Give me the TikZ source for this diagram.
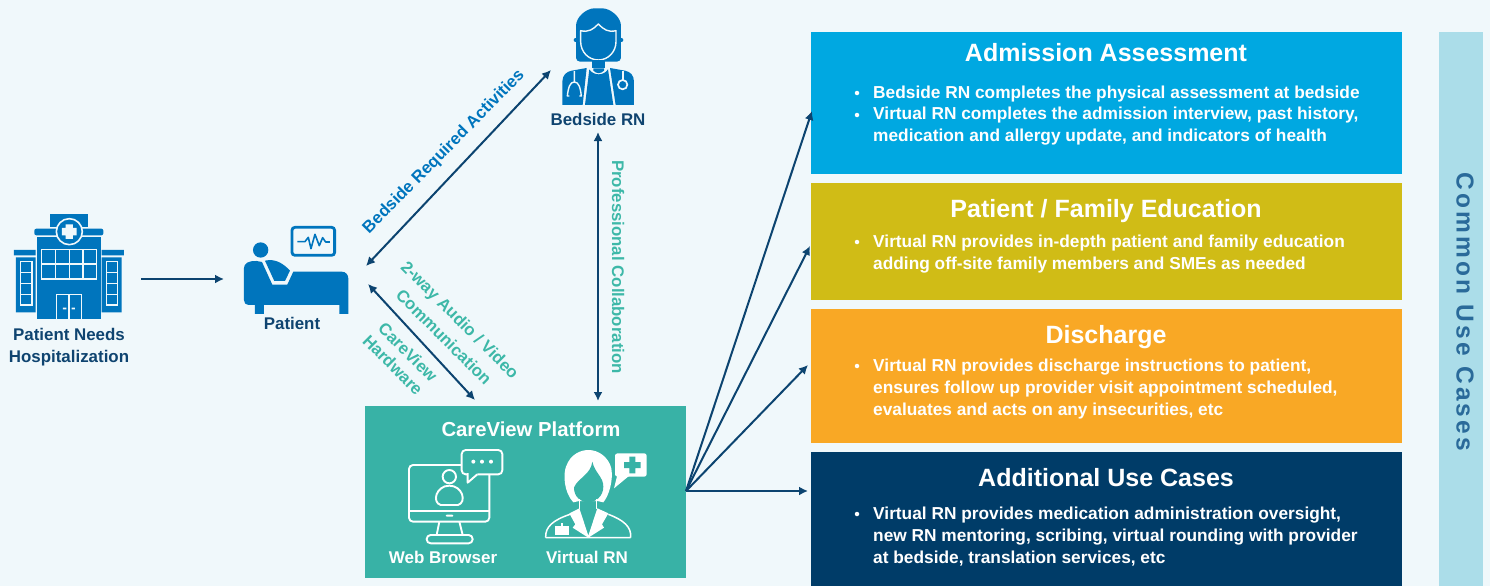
\documentclass[tikz,border=0pt]{standalone}
\usepackage{fontspec}
\setmainfont{Liberation Sans}
\newfontfamily\spacedfont[LetterSpace=13]{Liberation Sans}
\usetikzlibrary{arrows.meta}
\definecolor{bgc}{HTML}{F0F8FB}
\definecolor{iconblue}{HTML}{0075BD}
\definecolor{navy}{HTML}{0F4470}
\definecolor{arrowc}{HTML}{0C4470}
\definecolor{teal1}{HTML}{38B2A6}
\definecolor{tealtxt}{HTML}{3DB8A8}
\definecolor{boxblue}{HTML}{00A8E1}
\definecolor{boxyellow}{HTML}{D0BC16}
\definecolor{boxorange}{HTML}{F9A825}
\definecolor{boxnavy}{HTML}{003C68}
\definecolor{barblue}{HTML}{ABDDE9}
\definecolor{bartxt}{HTML}{2A6A9A}
\tikzset{
  box/.style={draw=none,inner sep=0,outer sep=0,anchor=north west},
  title/.style={text=white,font=\bfseries\fontsize{25}{25}\selectfont,anchor=base,inner sep=0},
  bodytext/.style={text=white,font=\bfseries\fontsize{17.3}{20}\selectfont,anchor=base west,inner sep=0},
  bulletdot/.style={circle,fill=white,minimum size=4.5pt,inner sep=0},
  lab/.style={text=navy,font=\bfseries\fontsize{16.9}{22}\selectfont,align=center,inner sep=0},
  whitelab/.style={text=white,font=\bfseries\fontsize{17}{20}\selectfont,inner sep=0},
  difflab/.style={font=\bfseries\fontsize{16.8}{20}\selectfont,inner sep=0},
  conn/.style={draw=arrowc,line width=2pt,-{Latex[length=9pt,width=9pt]}},
  biconn/.style={draw=arrowc,line width=2pt,{Latex[length=9pt,width=9pt]}-{Latex[length=9pt,width=9pt]}},
  wline/.style={draw=white,line width=1.9pt,line join=round},
}
\begin{document}
\begin{tikzpicture}[x=1pt,y=-1pt]
\useasboundingbox (0,0) rectangle (1490,586);
\fill[bgc] (0,0) rectangle (1490,586);

% right hand boxes
\node[box,fill=boxblue,minimum width=591pt,minimum height=142pt] (adm) at (811,32) {};
\node[box,fill=boxyellow,minimum width=591pt,minimum height=117pt] (edu) at (811,183) {};
\node[box,fill=boxorange,minimum width=591pt,minimum height=134pt] (dis) at (811,309) {};
\node[box,fill=boxnavy,minimum width=591pt,minimum height=134pt] (add) at (811,452) {};
\node[box,fill=barblue,minimum width=44pt,minimum height=554pt] (bar) at (1439,32) {};
\node[rotate=-90,text=bartxt,font=\spacedfont\bfseries\fontsize{24.5}{24}\selectfont,inner sep=0] (common) at (1465,312) {Common Use Cases};

\node[title] (t1) at (1106,61) {Admission Assessment};
\node[bulletdot] (b11) at (857,93) {};
\node[bodytext] (l11) at (873,98.5) {Bedside RN completes the physical assessment at bedside};
\node[bulletdot] (b12) at (857,115) {};
\node[bodytext] (l12) at (873,119.5) {Virtual RN completes the admission interview, past history,};
\node[bodytext] (l13) at (873,141) {medication and allergy update, and indicators of health};

\node[title] (t2) at (1106,217) {Patient / Family Education};
\node[bulletdot] (b21) at (857,242) {};
\node[bodytext] (l21) at (873,247) {Virtual RN provides in-depth patient and family education};
\node[bodytext] (l22) at (873,269) {adding off-site family members and SMEs as needed};

\node[title] (t3) at (1106,343) {Discharge};
\node[bulletdot] (b31) at (857,366) {};
\node[bodytext] (l31) at (873,371) {Virtual RN provides discharge instructions to patient,};
\node[bodytext] (l32) at (873,393) {ensures follow up provider visit appointment scheduled,};
\node[bodytext] (l33) at (873,415) {evaluates and acts on any insecurities, etc};

\node[title] (t4) at (1106,486.5) {Additional Use Cases};
\node[bulletdot] (b41) at (857,514) {};
\node[bodytext] (l41) at (873,519.5) {Virtual RN provides medication administration oversight,};
\node[bodytext] (l42) at (873,541) {new RN mentoring, scribing, virtual rounding with provider};
\node[bodytext] (l43) at (873,563) {at bedside, translation services, etc};

% platform
\node[box,fill=teal1,minimum width=321pt,minimum height=172pt] (platform) at (365,406) {};
\node[whitelab,font=\bfseries\fontsize{20.3}{20}\selectfont] (pt) at (531,429) {CareView Platform};
\node[whitelab] (wb) at (443,557) {Web Browser};
\node[whitelab] (vr) at (587,557) {Virtual RN};

% Web browser icon
\begin{scope}[shift={(400,445)},x=0.3333pt,y=-0.3333pt]
\draw[wline,rounded corners=4pt] (27,230) rectangle (268,60);
\draw[wline] (27,198) -- (268,198);
\draw[wline] (118,230) -- (110,270) (178,230) -- (188,270);
\draw[wline,rounded corners=4pt] (80,270) rectangle (218,295);
\fill[white,rounded corners=1pt] (137,209) rectangle (160,215);
\draw[wline,fill=teal1,rounded corners=4pt] (203,88) -- (185,88) -- (185,15) -- (307,15) -- (307,88) -- (232,88);
\fill[teal1] (204,84) rectangle (231,92);
\draw[wline] (203,84) -- (203,113) -- (232,88);
\fill[white] (220,50) circle (6) (246,50) circle (6) (273,50) circle (6);
\draw[wline] (148,95) circle (20);
\draw[wline] (122,180) .. controls (95,172) and (108,122) .. (148,122) .. controls (188,122) and (201,172) .. (174,180) -- cycle;
\end{scope}

% Virtual RN icon
\begin{scope}[shift={(540,445)},x=0.3333pt,y=-0.3333pt]
\fill[white] (100,172) .. controls (70,140) and (70,85) .. (78,65) .. controls (92,25) and (125,15) .. (145,15) .. controls (175,15) and (205,35) .. (214,70) .. controls (220,105) and (208,150) .. (190,172) -- (172,168) -- (118,168) -- cycle;
\fill[teal1] (102,128) .. controls (112,100) and (152,90) .. (157,50) .. controls (165,85) and (190,95) .. (190,125) .. controls (190,155) and (165,172) .. (145,172) .. controls (122,172) and (102,155) .. (102,128) -- cycle;
\draw[wline,line width=1.5pt] (118,163) -- (118,192) (170,163) -- (170,192);
\fill[white] (88,205) -- (118,190) -- (145,272) -- (172,190) -- (205,205) -- (186,238) -- (192,248) -- (145,278) -- (98,248) -- (106,238) -- cycle;
\draw[wline,line width=1.5pt] (17,278) .. controls (15,245) and (40,225) .. (90,208) (205,208) .. controls (250,225) and (275,245) .. (272,278) (17,278) -- (272,278);
\fill[white] (45,244) rectangle (86,270);
\fill[white] (62,234) rectangle (68,246);
\fill[white,rounded corners=2.5pt] (225,25) rectangle (320,95);
\fill[white] (232,90) -- (222,130) -- (268,92) -- cycle;
\fill[teal1] (268,35) rectangle (286,85) (252,51) rectangle (302,69);
\end{scope}

% hospital icon
\begin{scope}[shift={(0,200)},x=0.3333pt,y=-0.3333pt]
\fill[iconblue] (150,43) rectangle (264,82);
\fill[iconblue,rounded corners=2pt] (103,86) rectangle (310,106);
\fill[iconblue] (112,112) rectangle (302,358);
\fill[iconblue] (42,150) rectangle (107,166) (305,150) rectangle (372,166);
\fill[iconblue] (48,172) rectangle (107,337) (305,172) rectangle (365,337);
\draw[bgc,fill=iconblue,line width=1.6pt] (208,95) circle (39);
\fill[bgc] (197,73) rectangle (219,117) (186,84) rectangle (230,106);
\draw[bgc,line width=1.4pt] (125,148) rectangle (290,237);
\draw[bgc,line width=1.4pt] (166,148) -- (166,237) (208,148) -- (208,237) (249,148) -- (249,237) (125,192) -- (290,192);
\draw[bgc,line width=1.4pt] (170,358) -- (170,283) -- (245,283) -- (245,358) (207,283) -- (207,358);
\fill[bgc] (189,323) rectangle (199,328) (215,323) rectangle (225,328);
\draw[bgc,line width=1.4pt] (62,185) rectangle (96,315) (62,217) -- (96,217) (62,250) -- (96,250) (62,283) -- (96,283);
\draw[bgc,line width=1.4pt] (320,185) rectangle (353,315) (320,217) -- (353,217) (320,250) -- (353,250) (320,283) -- (353,283);
% patient icon
\fill[iconblue] (782,150) circle (23);
\draw[iconblue,line width=2.8pt,rounded corners=3pt] (876,82) rectangle (1004,166);
\draw[iconblue,line width=1.6pt,line join=round] (892,125) -- (915,125) -- (925,112) -- (933,146) -- (945,103) -- (958,137) -- (968,113) -- (977,126) -- (990,126);
\fill[iconblue] (732,300) -- (732,205) .. controls (732,190) and (745,182) .. (770,183) -- (786,186) -- (817,254) -- (862,254) -- (880,215) -- (1025,215) .. controls (1038,215) and (1045,225) .. (1045,235) -- (1045,342) -- (1018,342) -- (1018,315) -- (792,315) -- (792,342) -- (765,342) -- (765,315) -- (745,315) .. controls (737,315) and (732,308) .. (732,300) -- cycle;
\fill[iconblue] (795,182) .. controls (825,175) and (850,190) .. (870,212) -- (855,243) -- (823,243) -- cycle;
\end{scope}

% bedside RN icon
\begin{scope}[shift={(530,0)},x=0.3333pt,y=-0.3333pt]
\fill[iconblue,rounded corners=4pt] (138,185) -- (138,90) .. controls (138,50) and (170,25) .. (205,25) .. controls (240,25) and (273,50) .. (273,90) -- (273,185) -- cycle;
\fill[iconblue] (137,120) circle (6) (274,120) circle (6);
\draw[bgc,fill=iconblue,line width=1.4pt,line join=round] (152,92) .. controls (175,98) and (190,88) .. (205,72) .. controls (220,88) and (235,98) .. (258,92) -- (258,125) .. controls (258,155) and (235,180) .. (205,180) .. controls (175,180) and (152,155) .. (152,125) -- cycle;
\fill[iconblue] (187,181) rectangle (225,205);
\fill[iconblue] (190,212) .. controls (200,222) and (212,222) .. (222,212) -- (222,205) -- (190,205) -- cycle;
\fill[iconblue] (97,315) -- (97,245) .. controls (97,225) and (110,215) .. (125,212) -- (170,204) -- (158,315) -- cycle;
\fill[iconblue] (178,208) .. controls (190,228) and (222,228) .. (234,208) -- (250,315) -- (165,315) -- cycle;
\fill[iconblue] (240,204) -- (285,212) .. controls (300,215) and (312,225) .. (312,245) -- (312,315) -- (257,315) -- cycle;
\draw[bgc,line width=1.4pt,line join=round] (133,213) -- (133,245) (118,288) -- (112,288) .. controls (115,262) and (120,246) .. (133,246) .. controls (146,246) and (151,262) .. (154,288) -- (148,288);
\draw[bgc,line width=1.3pt] (279,212) -- (279,240);
\draw[bgc,line width=1.7pt] (278,254) circle (14);
\end{scope}

% icon labels
\node[lab] (hosp) at (69,347.5) {Patient Needs\\Hospitalization};
\node[lab] (pat) at (292,323) {Patient};
\node[lab] (bed) at (598,119) {Bedside RN};

% connector end points
\coordinate (hospR) at (141,279);
\coordinate (patL) at (224,279);
\coordinate (patUp) at (366,266);
\coordinate (bedL) at (551,70);
\coordinate (patDn) at (368,284);
\coordinate (platTL) at (475,400);
\coordinate (bedB) at (598,132);
\coordinate (platT) at (598,401);
\coordinate (fan) at (686,491);
\coordinate (admL) at (812,111);
\coordinate (eduL) at (810,246);
\coordinate (disL) at (808,365);
\coordinate (addL) at (808,491);

\draw[conn] (hospR) -- (patL);
\draw[biconn] (patUp) -- (bedL);
\draw[biconn] (patDn) -- (platTL);
\draw[biconn] (bedB) -- (platT);
\draw[conn] (fan) -- (admL);
\draw[conn] (fan) -- (eduL);
\draw[conn] (fan) -- (disL);
\draw[conn] (fan) -- (addL);

% connector labels
\node[difflab,text=iconblue,rotate=45.5] (lb1) at (444,152) {Bedside Required Activities};
\node[difflab,text=tealtxt,rotate=-45] (lb2) at (459,321) {2-way Audio / Video};
\node[difflab,text=tealtxt,rotate=-45] (lb3) at (444,337) {Communication};
\node[difflab,text=tealtxt,rotate=-45] (lb4) at (408,352) {CareView};
\node[difflab,text=tealtxt,rotate=-45] (lb5) at (393,365) {Hardware};
\node[difflab,text=tealtxt,rotate=-90] (lb6) at (618,267) {Professional Collaboration};
\end{tikzpicture}
\end{document}
